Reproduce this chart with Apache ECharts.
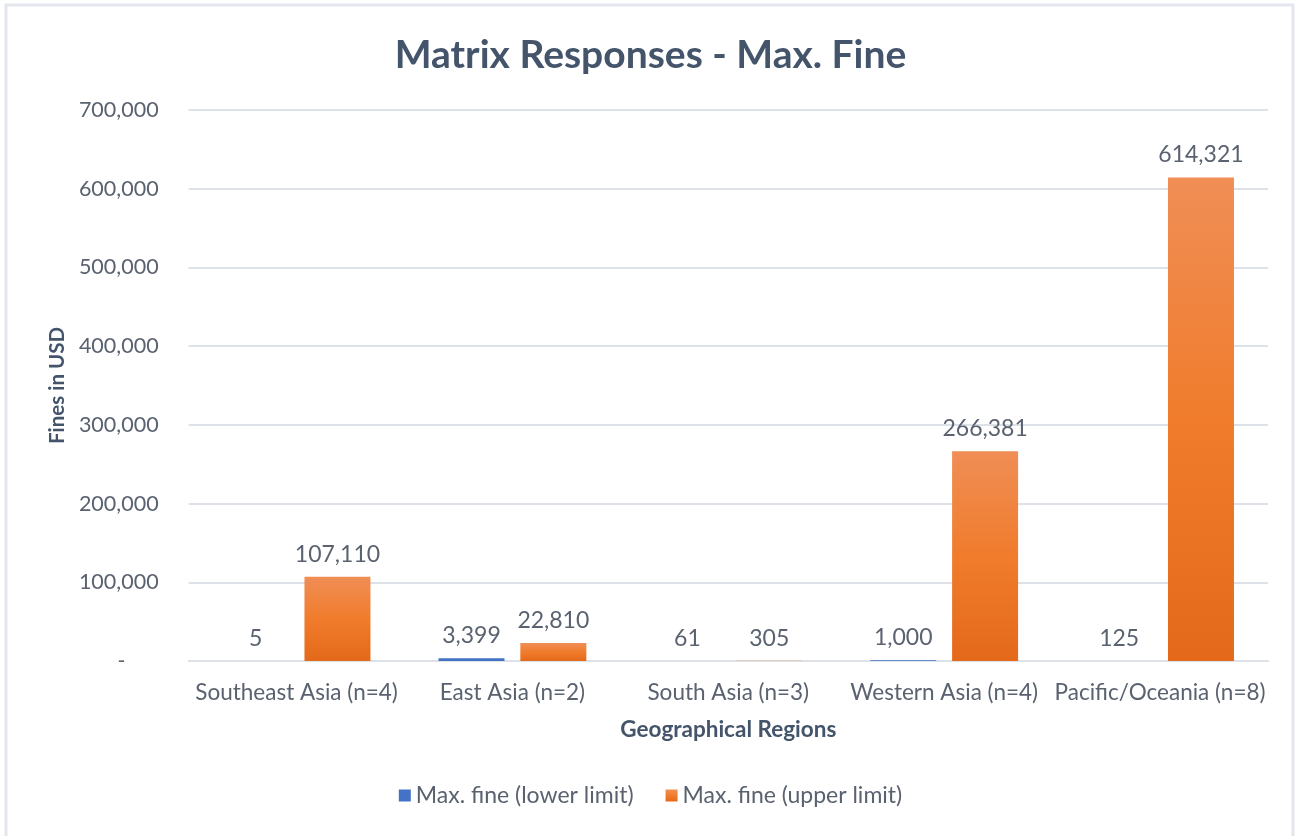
<!DOCTYPE html>
<html>
<head>
<meta charset="utf-8">
<script src="https://cdn.jsdelivr.net/npm/echarts@6/dist/echarts.min.js"></script>
<style>
  html, body { margin: 0; padding: 0; background: #fff; }
  #chart { width: 1301px; height: 836px; }
</style>
</head>
<body>
<div id="chart"></div>
<script>
// Regions and fine ranges (USD)
const regions = ['Southeast Asia (n=4)', 'East Asia (n=2)', 'South Asia (n=3)', 'Western Asia (n=4)', 'Pacific/Oceania (n=8)'];
const lowerLimit = [5, 3399, 61, 1000, 125];
const upperLimit = [107110, 22810, 305, 266381, 614321];
const seriesNames = ['Max. fine (lower limit)', 'Max. fine (upper limit)'];

const FONT = 'Lato, "Noto Sans", sans-serif';
const TEXT = '#5A6270';
const HEAD = '#44546A';

const fmt = v => v.toLocaleString('en-US');

const chart = echarts.init(document.getElementById('chart'), null, { renderer: 'canvas' });

chart.setOption({
  backgroundColor: '#ffffff',
  animation: false,
  textStyle: { fontFamily: FONT },
  graphic: [{
    type: 'rect',
    shape: { x: 6, y: 5, width: 1287, height: 840 },
    style: { fill: 'none', stroke: '#E3E6EC', lineWidth: 3 },
    silent: true
  }],
  title: {
    text: 'Matrix Responses - Max. Fine',
    left: 'center',
    top: 31,
    textStyle: { fontFamily: FONT, fontSize: 39, fontWeight: 'bold', color: HEAD }
  },
  legend: {
    bottom: 24,
    left: 'center',
    itemWidth: 12,
    itemHeight: 12,
    itemGap: 32,
    icon: 'rect',
    textStyle: { fontFamily: FONT, fontSize: 23, color: TEXT },
    data: seriesNames
  },
  grid: { left: 188.6, right: 33, top: 110, bottom: 175 },
  xAxis: {
    type: 'category',
    data: regions,
    name: 'Geographical Regions',
    nameLocation: 'middle',
    nameGap: 57,
    nameTextStyle: { fontFamily: FONT, fontSize: 22.5, fontWeight: 'bold', color: HEAD },
    axisLine: { show: true, lineStyle: { color: '#DDE1E8', width: 2 } },
    axisTick: { show: false },
    axisLabel: { fontFamily: FONT, fontSize: 22.5, color: TEXT, margin: 20, interval: 0 }
  },
  yAxis: {
    type: 'value',
    min: 0,
    max: 700000,
    interval: 100000,
    name: 'Fines in USD',
    nameLocation: 'middle',
    nameGap: 121,
    nameRotate: 90,
    nameTextStyle: { fontFamily: FONT, fontSize: 20.5, fontWeight: 'bold', color: HEAD },
    axisLine: { show: false },
    axisTick: { show: false },
    splitLine: { lineStyle: { color: '#DDE1E8', width: 2 } },
    axisLabel: {
      fontFamily: FONT, fontSize: 21.5, color: TEXT, margin: 30,
      formatter: v => v === 0 ? '-      ' : fmt(v)
    }
  },
  series: [
    {
      name: seriesNames[0],
      type: 'bar',
      data: lowerLimit,
      barWidth: 66,
      barGap: '24%',
      itemStyle: { color: '#4472C4' },
      label: {
        show: true, position: 'top', distance: 11,
        fontFamily: FONT, fontSize: 23, color: TEXT,
        formatter: p => fmt(p.value)
      }
    },
    {
      name: seriesNames[1],
      type: 'bar',
      data: upperLimit,
      barWidth: 66,
      itemStyle: {
        color: new echarts.graphic.LinearGradient(0, 0, 0, 1, [
          { offset: 0, color: '#F08E56' },
          { offset: 0.5, color: '#F07C2C' },
          { offset: 1, color: '#E4691A' }
        ])
      },
      label: {
        show: true, position: 'top', distance: 11,
        fontFamily: FONT, fontSize: 23, color: TEXT,
        formatter: p => fmt(p.value)
      }
    }
  ]
});
</script>
</body>
</html>
